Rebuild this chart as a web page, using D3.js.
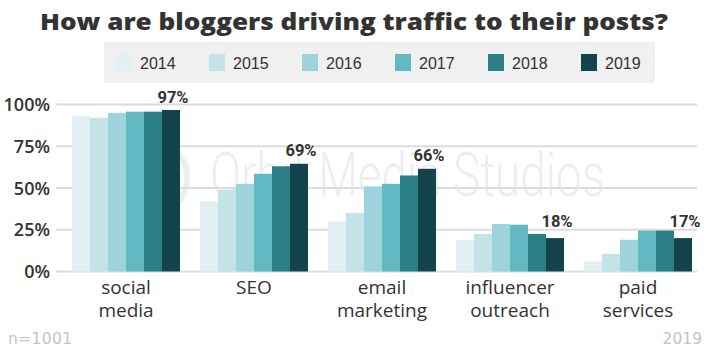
<!DOCTYPE html>
<html><head><meta charset="utf-8">
<script src="https://cdn.jsdelivr.net/npm/d3@7"></script>
<style>body{margin:0;background:#fff}svg{display:block}</style>
</head><body>
<svg id="chart" width="710" height="355"></svg>
<script>
const categories = [["social","media"],["SEO"],["email","marketing"],["influencer","outreach"],["paid","services"]];
const years = ["2014","2015","2016","2017","2018","2019"];
const colors = ["#e0f0f3","#c2e4e9","#9dd3db","#62b8c3","#2b7f87","#13444b"];
const v2014 = [93, 42, 30, 19, 6];
const v2015 = [92, 49, 35, 22.5, 10.5];
const v2016 = [95, 52.5, 51, 28.5, 19];
const v2017 = [95.7, 58.5, 52.5, 28, 24.5];
const v2018 = [95.7, 63, 57.5, 22.5, 24.5];
const v2019 = [96.7, 64.5, 61.5, 20, 20];
const topLabels = ["97%","69%","66%","18%","17%"];
const yTicks = [0, 25, 50, 75, 100];
const series = [v2014, v2015, v2016, v2017, v2018, v2019];

const svg = d3.select("#chart");

// title
svg.append("text").attr("x", 354).attr("y", 30).attr("text-anchor","middle")
  .attr("font-family","'Open Sans'").attr("font-weight",800).attr("font-size",23.5)
  .attr("textLength",628).attr("lengthAdjust","spacingAndGlyphs")
  .attr("fill","#333").text("How are bloggers driving traffic to their posts?");

// legend
svg.append("rect").attr("x",104).attr("y",42).attr("width",551).attr("height",41).attr("fill","#f0f0f0");
const lx = d3.scalePoint().domain(years).range([116, 581]);
const lg = svg.append("g").selectAll("g").data(years).join("g").attr("transform", d => `translate(${lx(d)},54)`);
lg.append("rect").attr("width",16).attr("height",17).attr("fill",(d,i)=>colors[i]);
lg.append("text").attr("x",24).attr("y",15).attr("font-family","'Liberation Sans',Arial").attr("font-size",16)
  .attr("fill","#333").text(d=>d);

// scales
const y = d3.scaleLinear().domain([0,100]).range([271.5, 104.5]);
const x0 = d3.scaleBand().domain(d3.range(categories.length)).range([62, 702]).paddingInner(20/128).paddingOuter(10/128);
const x1 = d3.scaleBand().domain(d3.range(years.length)).range([0, x0.bandwidth()]);

// watermark
const wm = svg.append("g");
wm.append("circle").attr("cx",148).attr("cy",178).attr("r",39).attr("fill","none").attr("stroke","#eeeeee").attr("stroke-width",6);
wm.append("text").attr("x",210).attr("y",196).attr("font-family","Roboto").attr("font-weight",300)
  .attr("font-size",62).attr("fill","#eeeeee").attr("textLength",395).attr("lengthAdjust","spacingAndGlyphs").text("Orbit Media Studios");

// grid
svg.append("g").selectAll("line").data(yTicks).join("line")
  .attr("x1",56).attr("x2",697).attr("y1",d=>y(d)).attr("y2",d=>y(d))
  .attr("stroke","#dcdcdc").attr("stroke-width",2);

// y axis labels
svg.append("g").selectAll("text").data(yTicks).join("text")
  .attr("x",50).attr("y",d=>y(d)+6.5).attr("text-anchor","end")
  .attr("font-family","'Open Sans'").attr("font-weight",600).attr("font-size",18).attr("fill","#333")
  .text(d=>d+"%");

// bars
const groups = svg.append("g").selectAll("g").data(categories).join("g")
  .attr("transform",(d,i)=>`translate(${x0(i)},0)`);
groups.selectAll("rect").data((d,i)=>series.map((s,j)=>({v:s[i], j}))).join("rect")
  .attr("x",d=>x1(d.j)).attr("width",x1.bandwidth()).attr("y",d=>y(d.v)).attr("height",d=>y(0)-y(d.v))
  .attr("fill",d=>colors[d.j]);

// top labels
svg.append("g").selectAll("text").data(topLabels).join("text")
  .attr("x",(d,i)=>x0(i)+x1(5)+x1.bandwidth()/2+2)
  .attr("y",(d,i)=>y(v2019[i]) - (i>=3 ? 11 : 7.5))
  .attr("text-anchor","middle").attr("font-family","Roboto").attr("font-weight",700)
  .attr("font-size",16.5).attr("fill","#333").text(d=>d);

// category labels
const cl = svg.append("g").selectAll("text").data(categories).join("text")
  .attr("text-anchor","middle").attr("font-family","'Open Sans'").attr("font-size",19).attr("fill","#333");
cl.selectAll("tspan").data((d,i)=>d.map(t=>({t,i}))).join("tspan")
  .attr("x",d=>x0(d.i)+x0.bandwidth()/2).attr("y",(d,k)=>294+k*22.5).text(d=>d.t);

// footer
svg.append("text").attr("x",8).attr("y",344).attr("font-family","'DejaVu Sans'").attr("font-size",15.5)
  .attr("fill","#c4c4c4").attr("textLength",64).text("n=1001");
svg.append("text").attr("x",702).attr("y",344).attr("text-anchor","end").attr("font-family","'DejaVu Sans'").attr("font-size",15.5)
  .attr("fill","#c4c4c4").text("2019");
</script>
</body></html>
